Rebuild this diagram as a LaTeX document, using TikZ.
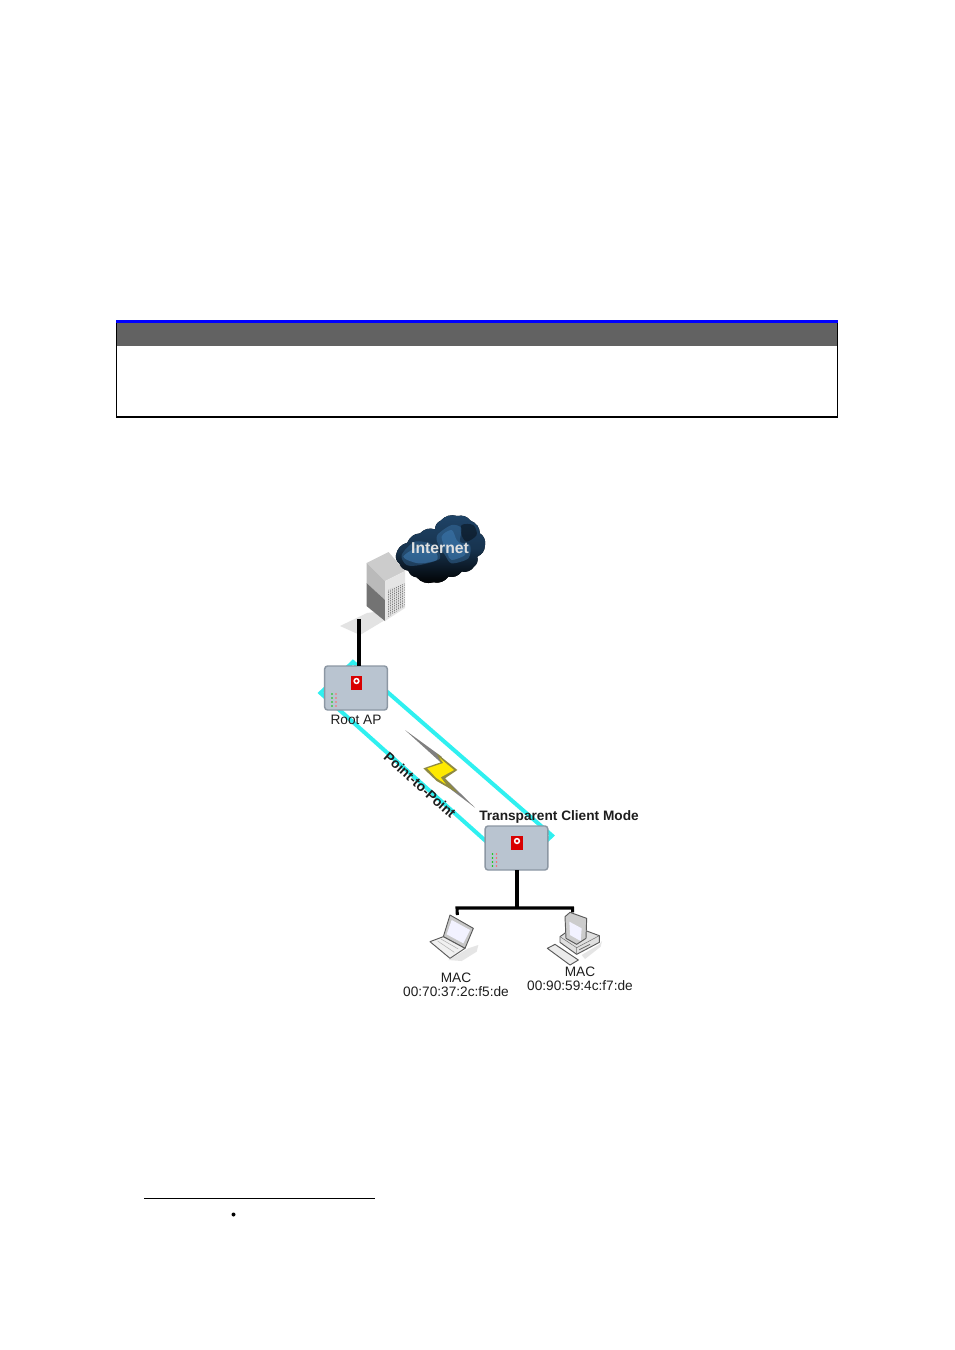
\documentclass[tikz,border=0pt]{standalone}
\usepackage{fontspec}
\setmainfont{Liberation Sans}
\usetikzlibrary{shadings,calc}
\definecolor{linkcyan}{HTML}{2FF0F0}
\definecolor{boxfill}{HTML}{B9C4D0}
\definecolor{boxedge}{HTML}{8C97A3}
\definecolor{hdrgray}{HTML}{626262}
\definecolor{hdrblue}{HTML}{0000FF}
\definecolor{txt}{HTML}{1E1E1E}
\definecolor{cloudblue}{HTML}{3F7DB5}
\definecolor{cloudmid}{HTML}{1F4468}
\tikzset{
  apbox/.style={draw=boxedge,line width=1.1pt,rounded corners=2.2pt,fill=boxfill,minimum width=47pt,minimum height=33pt,inner sep=0pt,outer sep=0pt},
  wire/.style={line width=2.3pt,black},
  linklane/.style={draw=linkcyan,line width=3pt,line join=miter},
  lab/.style={font=\fontsize{10.25}{10.5}\selectfont,text=txt,inner sep=0pt,align=center},
  blab/.style={font=\bfseries\fontsize{10.25}{11.5}\selectfont,text=txt,inner sep=0pt},
  logo/.style={fill=red!85!black,minimum width=8.5pt,minimum height=10.5pt,inner sep=0pt},
  bump/.style={bend left=32},
  iconline/.style={draw=black!65,line width=.7pt,line join=round},
}
\newcommand{\apfront}[1]{%
  \node[logo] at ($(#1)+(0.5,-5.5)$) {};
  \fill[white] ($(#1)+(0.5,-7)$) circle (2.4pt);
  \fill[red!85!black] ($(#1)+(0.5,-7)$) circle (1.2pt);
  \foreach \yy in {6,10,14,18}{
    \fill[green!80!black] ($(#1)+(-24,\yy)$) circle (.7pt);
    \fill[red!60!white] ($(#1)+(-20,\yy)$) circle (.7pt);
  }}
\begin{document}
\begin{tikzpicture}[x=0.75pt,y=-0.75pt]
\useasboundingbox (0,0) rectangle (954,1350);
\fill[white] (0,0) rectangle (954,1350);

% header table
\node[draw=black,line width=.8pt,outer sep=0pt,minimum width=540.75pt,minimum height=71.25pt,inner sep=0pt,anchor=north west] (tablebox) at (116.5,322) {};
\fill[hdrgray] (117,323) rectangle (837,346);
\fill[hdrblue] (116,320) rectangle (838,323);

% cyan link lane
\draw[linklane] (353,662) -- (320.5,693) -- (517,869) -- (552,835.5) -- cycle;

% server floor
\fill[black!11] (340,626) -- (367,613) -- (404,608) -- (385,620) -- (360,635) -- cycle;
% server
\fill[black!20] (366.5,563) -- (388.5,552) -- (405,571) -- (385,581) -- cycle;
\fill[black!27] (366.5,563) -- (385,581) -- (385,600) -- (366.5,583) -- cycle;
\fill[black!55] (366.5,583) -- (385,600) -- (385,621) -- (366.5,606) -- cycle;
\fill[black!10] (385,581) -- (405,571) -- (405,608) -- (385,621) -- cycle;
\begin{scope}
\clip (388,590) -- (404.5,583) -- (404.5,606) -- (388,617) -- cycle;
\foreach \i in {0,1.7,...,34}{\draw[black!55,line width=.5pt] (387,{590+\i}) -- (405,{582+\i});}
\foreach \i in {0,2,...,18}{\draw[black!12,line width=.5pt] ({387+\i},575) -- ({387+\i},620);}
\end{scope}

% cloud: coordinates in the 3x crop at (320,500)
\begin{scope}[shift={(320,500)},x=.25pt,y=-.25pt]
\def\cloudpath{(228,165) to[bump] (262,128) to[bump] (300,100) to[bump] (345,88) to[bump] (362,62) to[bump] (412,48) to[bump] (452,62) to[bump] (480,100) to[bump] (495,135) to[bump] (472,170) to[bump] (462,200) to[bump] (425,215) to[bump] (385,230) to[bump] (340,247) to[bump] (290,232) to[bump] (265,212) to[bump] (238,190) to[bump] (228,165) -- cycle}
\fill[black] \cloudpath;
\begin{scope}
\clip \cloudpath;
\shade[top color=cloudmid,bottom color=black,middle color=cloudmid!75!black] (220,40) rectangle (500,255);
\fill[cloudblue,opacity=.35] plot[smooth cycle] coordinates {(245,165)(285,125)(340,135)(360,175)(300,195)(260,195)};
\fill[cloudblue,opacity=.55] plot[smooth cycle] coordinates {(250,170)(300,140)(345,155)(350,180)(295,190)};
\fill[cloudblue,opacity=.4] plot[smooth cycle] coordinates {(352,105)(395,75)(425,85)(420,125)(450,135)(445,175)(395,190)(375,165)(355,135)};
\fill[cloudblue,opacity=.5] plot[smooth cycle] coordinates {(365,110)(395,90)(410,120)(430,140)(435,165)(395,180)(382,160)};
\fill[black,opacity=.4] plot[smooth cycle] coordinates {(425,75)(460,75)(470,105)(440,125)(425,105)};
\end{scope}
\end{scope}
\node[font=\bfseries\fontsize{11.8}{12}\selectfont,text=black!12,inner sep=0pt] (internet) at (440,548) {Internet};

% access points
\node[apbox] (rootap) at (356,688) {};
\apfront{rootap}
\node[lab] (rootlab) at (356,719.5) {Root AP};
\node[apbox] (client) at (516.5,848) {};
\apfront{client}
\node[blab] (clientlab) at (559,817) {Transparent Client Mode};

% link bolt: coordinates in the 3x crop at (400,725)
\begin{scope}[shift={(400,725)},x=.25pt,y=-.25pt]
\fill[black!50] (15,15) -- (125,95) -- (122,112) -- cycle;
\fill[black!50] (225,248) -- (135,160) -- (125,172) -- cycle;
\fill[olive!55!gray] (110,85) -- (172,135) -- (135,160) -- (175,205) -- (110,168) -- (70,130) -- (122,112) -- cycle;
\fill[yellow!92!orange] (118,98) -- (162,135) -- (122,157) -- (138,178) -- (108,158) -- (82,130) -- (130,114) -- cycle;
\end{scope}
\node[font=\bfseries\fontsize{10.3}{11}\selectfont,text=txt,rotate=-42,inner sep=0pt] (ptp) at (420,785) {Point-to-Point};

% laptop: coordinates in the 3x crop at (425,905)
\begin{scope}[shift={(425,905)},x=.25pt,y=-.25pt]
\coordinate (laptop) at (97,30);
\fill[black!10] (70,165) -- (130,130) -- (160,120) -- (155,140) -- (110,168) -- cycle;
\draw[iconline,fill=black!22] (75,30) -- (145,70) -- (120,130) -- (55,95) -- cycle;
\fill[blue!5!white] (80,45) -- (135,75) -- (115,115) -- (65,88) -- cycle;
\draw[iconline,fill=black!6] (55,95) -- (120,130) -- (75,160) -- (15,110) -- cycle;
\draw[black!30,line width=.4pt] (38,108) -- (88,142) (48,102) -- (100,132);
\end{scope}

% desktop: coordinates in the 3x crop at (540,905)
\begin{scope}[shift={(540,905)},x=.25pt,y=-.25pt]
\coordinate (desktop) at (98,22);
\fill[black!10] (125,150) -- (178,118) -- (186,108) -- (182,125) -- (135,162) -- cycle;
\draw[iconline,fill=black!12] (60,95) -- (78,82) -- (140,78) -- (178,92) -- (178,112) -- (110,148) -- (60,112) -- cycle;
\draw[black!55,line width=.4pt] (60,95) -- (110,128) -- (178,92) (110,128) -- (110,148);
\draw[black!60,line width=.6pt] (118,134) -- (150,118);
\draw[iconline,fill=black!20] (75,35) -- (90,22) -- (140,40) -- (138,100) -- (110,118) -- (78,100) -- cycle;
\fill[blue!5!white] (88,50) -- (125,70) -- (122,108) -- (90,90) -- cycle;
\draw[iconline,fill=black!8] (22,130) -- (45,118) -- (115,165) -- (90,180) -- cycle;
\end{scope}

% wires
\coordinate (serverfoot) at (359,619);
\coordinate (busjoin) at (517,908);
\coordinate (busleft) at (457,908);
\coordinate (busright) at (572.5,908);
\draw[wire] (serverfoot) -- (serverfoot |- rootap.north);
\draw[wire] (client.south -| busjoin) -- (busjoin);
\draw[wire,line join=miter] (laptop) -- (busleft) -- (busright) -- (desktop);

% host labels
\node[lab] (maclap) at (456,984.5) {MAC\\00:70:37:2c:f5:de};
\node[lab] (macpc) at (580,978.5) {MAC\\00:90:59:4c:f7:de};

% footnote
\coordinate (fnl) at (144,1198);
\coordinate (fnr) at (375,1198);
\draw[black,line width=.75pt] (fnl) -- (fnr);
\fill[black] (233.5,1214.5) circle (1.5pt);
\end{tikzpicture}
\end{document}
